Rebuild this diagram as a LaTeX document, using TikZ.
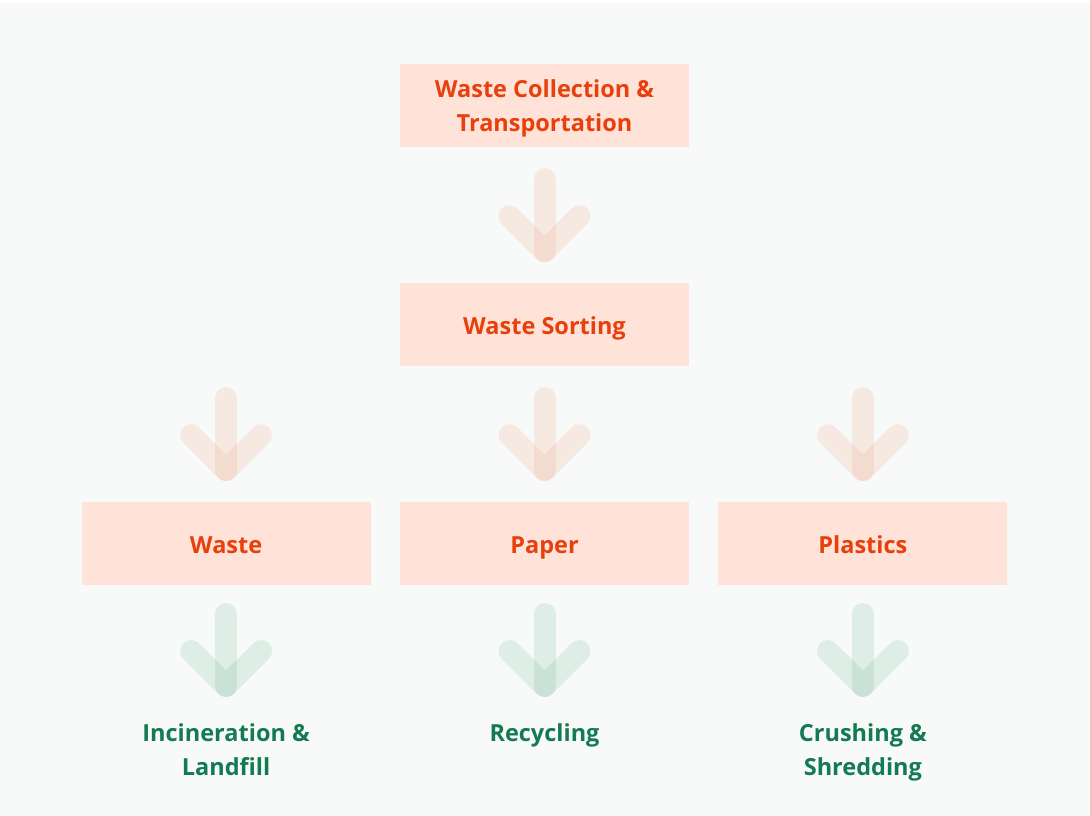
\documentclass[tikz,border=0pt]{standalone}
\usepackage{fontspec}
\setmainfont{Open Sans}
\usetikzlibrary{positioning,calc}
\definecolor{pagebg}{HTML}{F8FAF9}
\definecolor{boxfill}{HTML}{FFE3D8}
\definecolor{boxtext}{HTML}{E8400C}
\definecolor{endtext}{HTML}{147A52}
\definecolor{arrowred}{HTML}{F0A080}
\definecolor{arrowgreen}{HTML}{3C966E}

\begin{document}
\begin{tikzpicture}[x=1pt,y=1pt,node distance=136pt and 29pt,
  stage/.style={rectangle,fill=boxfill,text=boxtext,font=\bfseries\fontsize{23.5}{34}\selectfont,
    minimum width=289pt,minimum height=83pt,inner sep=0pt,align=center,text depth=0pt},
  oneline/.style={text height=20pt},
  result/.style={text=endtext,font=\bfseries\fontsize{23.5}{34}\selectfont,inner sep=0pt,align=center},
  redflow/.style={draw=arrowred,draw opacity=0.19},
  greenflow/.style={draw=arrowgreen,draw opacity=0.13},
  pics/flow/.style={code={
    \draw[#1,line width=22pt,line cap=round] (0,36) -- (0,-36);
    \draw[#1,line width=22pt,line cap=round,line join=round] (-35,-1) -- (0,-36) -- (35,-1);
  }}]
\useasboundingbox (0,0) rectangle (1090,-816);
\fill[pagebg] (0,-3) rectangle (1090,-816);

\node[stage] (collect) at (544.5,-105.5) {Waste Collection \&\\Transportation};
\node[stage,oneline,below=of collect] (sorting) {Waste Sorting};
\node[stage,oneline,below=135pt of sorting] (paper) {Paper};
\node[stage,oneline,left=of paper] (waste) {Waste};
\node[stage,oneline,right=of paper] (plastics) {Plastics};

\node[result,below=138pt of waste] (burn) {Incineration \&\\Landfill};
\node[result,below=138pt of paper] (recycle) {Recycling};
\node[result,below=138pt of plastics] (crush) {Crushing \&\\Shredding};

% arrows between the stages
\pic at ($(collect.south)!0.5!(sorting.north)$) {flow=redflow};
\foreach \n in {waste,paper,plastics}{
  \pic at ($(sorting.south -| \n.north)!0.5!(\n.north)$) {flow=redflow};
  \pic at ($(\n.south)+(0,-65)$) {flow=greenflow};
}
\end{tikzpicture}
\end{document}
